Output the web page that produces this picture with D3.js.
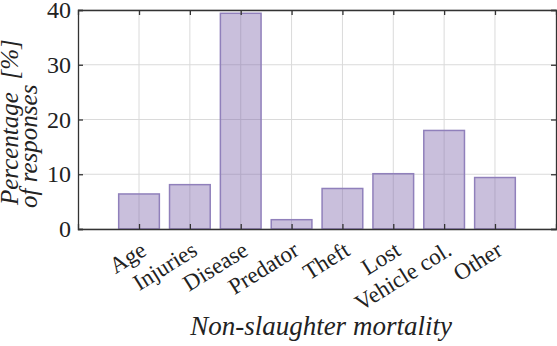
<!DOCTYPE html>
<html lang="en">
<head>
<meta charset="UTF-8">
<title>Non-slaughter mortality</title>
<style>
  body { margin: 0; background: #fff; }
  text { font-family: "Liberation Serif", "Times New Roman", serif; fill: #222; }
</style>
</head>
<body>
<svg id="chart" width="557" height="346"></svg>
<script src="https://cdn.jsdelivr.net/npm/d3@7/dist/d3.min.js"></script>
<script>

    let categories = ["Age", "Injuries", "Disease", "Predator", "Theft", "Lost", "Vehicle col.", "Other"]
    let values = [6.4, 8.1, 39.4, 1.7, 7.4, 10.1, 18.0, 9.4]
    let yTicks = [0, 10, 20, 30, 40]

    let plotL = 78, plotR = 556, plotT = 10, plotB = 229

    let svg = d3.select("#chart")

    let x = d3.scaleLinear()
        .domain([-0.2, 9.2])
        .range([plotL, plotR])

    let y = d3.scaleLinear()
        .domain([0, 40])
        .range([plotB, plotT])

    let pos = (d, i) => i + 1

    // grid
    let grid = svg.append("g").attr("stroke", "#dadada").attr("stroke-width", 1)
    grid.selectAll(".gx")
        .data(categories)
        .enter().append("line")
        .attr("x1", (d, i) => x(pos(d, i))).attr("x2", (d, i) => x(pos(d, i)))
        .attr("y1", plotT).attr("y2", plotB)
    grid.selectAll(".gy")
        .data(yTicks)
        .enter().append("line")
        .attr("x1", plotL).attr("x2", plotR)
        .attr("y1", d => y(d)).attr("y2", d => y(d))

    // bars
    let bw = x(0.8) - x(0)
    svg.append("g")
        .selectAll("rect")
        .data(values)
        .enter().append("rect")
        .attr("x", (d, i) => x(pos(d, i)) - bw / 2)
        .attr("y", d => y(d))
        .attr("width", bw)
        .attr("height", d => y(0) - y(d))
        .attr("fill", "#7e66ac")
        .attr("fill-opacity", 0.42)
        .attr("stroke", "#9080bb")
        .attr("stroke-width", 1.5)

    // axes
    let xAxis = d3.axisBottom(x)
        .tickValues(categories.map(pos))
        .tickSize(-5)
        .tickFormat("")
    svg.append("g")
        .attr("transform", `translate(0,${plotB})`)
        .call(xAxis)
    let xTop = d3.axisTop(x)
        .tickValues(categories.map(pos))
        .tickSize(-5)
        .tickFormat("")
    svg.append("g")
        .attr("transform", `translate(0,${plotT})`)
        .call(xTop)

    let yAxis = d3.axisLeft(y)
        .tickValues(yTicks)
        .tickSize(-5)
        .tickPadding(7)
    svg.append("g")
        .attr("class", "yaxis")
        .attr("transform", `translate(${plotL},0)`)
        .call(yAxis)
    let yRight = d3.axisRight(y)
        .tickValues(yTicks)
        .tickSize(-5)
        .tickFormat("")
    svg.append("g")
        .attr("transform", `translate(${plotR},0)`)
        .call(yRight)

    svg.selectAll(".domain").attr("stroke", "#333").attr("stroke-width", 1.3)
    svg.selectAll(".tick line").attr("stroke", "#333").attr("stroke-width", 1.3)
    svg.selectAll(".yaxis text")
        .style("font-family", "Liberation Serif")
        .style("font-size", "24px")
        .attr("fill", "#222")

    // rotated category labels
    svg.append("g")
        .selectAll("text")
        .data(categories)
        .enter().append("text")
        .attr("text-anchor", "end")
        .attr("font-size", 23)
        .attr("transform", (d, i) => `translate(${x(pos(d, i)) + 9},${plotB + 25}) rotate(-32)`)
        .text(d => d)

    // axis titles
    svg.append("text")
        .attr("x", 321)
        .attr("y", 335)
        .attr("text-anchor", "middle")
        .attr("font-size", 27)
        .attr("font-style", "italic")
        .text("Non-slaughter mortality")

    let yl = svg.append("text")
        .attr("transform", "translate(18,205) rotate(-90)")
        .attr("font-size", 25)
        .attr("font-style", "italic")
    yl.append("tspan").attr("x", 0).attr("y", 0).text("Percentage\u00a0\u00a0[%]")
    yl.append("tspan").attr("x", -3).attr("y", 19).text("of responses")

</script>
</body>
</html>
